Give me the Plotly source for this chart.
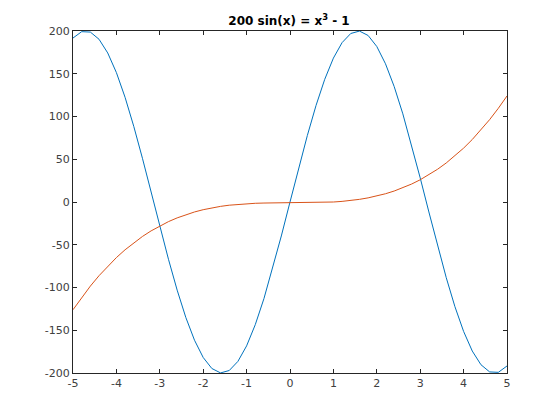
import plotly.graph_objects as go

x_vals = [-5.0, -4.8, -4.6, -4.4, -4.2, -4.0, -3.8, -3.6, -3.4, -3.2, -3.0,
          -2.8, -2.6, -2.4, -2.2, -2.0, -1.8, -1.6, -1.4, -1.2, -1.0,
          -0.8, -0.6, -0.4, -0.2, 0.0, 0.2, 0.4, 0.6, 0.8, 1.0,
          1.2, 1.4, 1.6, 1.8, 2.0, 2.2, 2.4, 2.6, 2.8, 3.0,
          3.2, 3.4, 3.6, 3.8, 4.0, 4.2, 4.4, 4.6, 4.8, 5.0]

sin_vals = [191.78, 199.23, 198.74, 190.32, 174.32, 151.36, 122.37, 88.50, 51.11, 11.67, -28.22,
            -67.00, -103.10, -135.09, -161.70, -181.86, -194.77, -199.91, -197.09, -186.41, -168.29,
            -143.47, -112.93, -77.88, -39.73, 0.0, 39.73, 77.88, 112.93, 143.47, 168.29,
            186.41, 197.09, 199.91, 194.77, 181.86, 161.70, 135.09, 103.10, 67.00, 28.22,
            -11.67, -51.11, -88.50, -122.37, -151.36, -174.32, -190.32, -198.74, -199.23, -191.78]

cubic_vals = [-126.0, -111.59, -98.34, -86.18, -75.09, -65.0, -55.87, -47.66, -40.30, -33.77, -28.0,
              -22.95, -18.58, -14.82, -11.65, -9.0, -6.83, -5.10, -3.74, -2.73, -2.0,
              -1.51, -1.22, -1.06, -1.01, -1.0, -0.99, -0.94, -0.78, -0.49, 0.0,
              0.73, 1.74, 3.10, 4.83, 7.0, 9.65, 12.82, 16.58, 20.95, 26.0,
              31.77, 38.30, 45.66, 53.87, 63.0, 73.09, 84.18, 96.34, 109.59, 124.0]

x_ticks = [-5, -4, -3, -2, -1, 0, 1, 2, 3, 4, 5]
y_ticks = [-200, -150, -100, -50, 0, 50, 100, 150, 200]

fig = go.Figure()
fig.add_trace(go.Scatter(x=x_vals, y=sin_vals, mode="lines",
                         line=dict(color="#0072BD", width=1), showlegend=False))
fig.add_trace(go.Scatter(x=x_vals, y=cubic_vals, mode="lines",
                         line=dict(color="#D95319", width=1), showlegend=False))

axis_common = dict(showline=True, linecolor="#262626", linewidth=1, mirror="ticks",
                   ticks="inside", ticklen=4, tickcolor="#262626", showgrid=False,
                   zeroline=False, tickfont=dict(family="DejaVu Sans", size=11, color="#404040"))

fig.update_xaxes(range=[-5, 5], tickvals=x_ticks, ticktext=[str(t) for t in x_ticks], **axis_common)
fig.update_yaxes(range=[-200, 200], tickvals=y_ticks, ticktext=[str(t) for t in y_ticks], **axis_common)

fig.update_layout(
    width=560, height=420,
    margin=dict(l=65, r=61, t=23, b=55),
    paper_bgcolor="white", plot_bgcolor="white",
    title=dict(text="<b>200 sin(x) = x<sup>3</sup> - 1</b>", x=281 / 560, xanchor="center",
               y=1 - 13 / 420, yanchor="middle", yref="container",
               font=dict(family="DejaVu Sans", size=12, color="black")),
)

fig.write_html("out.html")
